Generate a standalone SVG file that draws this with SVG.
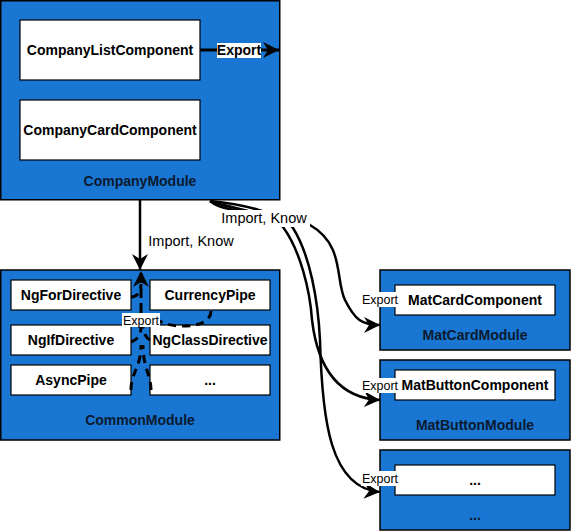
<svg xmlns="http://www.w3.org/2000/svg" width="571" height="532" viewBox="0 0 571 532">
<style>
.mod{fill:#1976D2;stroke:#000;stroke-width:1.5}
.box{fill:#fff;stroke:#000;stroke-width:1.2}
.t{font-family:"Liberation Sans",Arial,sans-serif;font-size:14px;font-weight:bold;fill:#000;text-anchor:middle}
.mt{font-family:"Liberation Sans",Arial,sans-serif;font-size:14px;font-weight:bold;fill:#0b1a2e;text-anchor:middle}
.lbl{font-family:"Liberation Sans",Arial,sans-serif;font-size:14.5px;fill:#000;text-anchor:middle}
.sl{font-family:"Liberation Sans",Arial,sans-serif;font-size:12.5px;fill:#000;text-anchor:middle}
.edge{fill:none;stroke:#000;stroke-width:2.5}
.dash{fill:none;stroke:#000;stroke-width:3;stroke-dasharray:8 6}
.bg{fill:#fff}
</style>
<defs>
<marker id="arr" markerUnits="userSpaceOnUse" markerWidth="18" markerHeight="16" refX="16" refY="8" orient="auto">
<path d="M0,0 L16,8 L0,16 L5,8 Z" fill="#000"/>
</marker>
</defs>

<g id="CompanyModule">
<rect class="mod" x="0.75" y="0.75" width="279" height="199"/>
<text class="mt" x="140" y="186">CompanyModule</text>
</g>
<g id="CompanyListComponent">
<rect class="box" x="20" y="20" width="180" height="60"/>
<text class="t" x="110" y="55">CompanyListComponent</text>
</g>
<g id="CompanyCardComponent">
<rect class="box" x="20" y="100" width="180" height="60"/>
<text class="t" x="110" y="135">CompanyCardComponent</text>
</g>

<g id="CommonModule">
<rect class="mod" x="0.75" y="270" width="279" height="170"/>
<text class="mt" x="140" y="425">CommonModule</text>
</g>
<g id="NgForDirective">
<rect class="box" x="11" y="280" width="120" height="30"/>
<text class="t" x="71" y="300">NgForDirective</text>
</g>
<g id="CurrencyPipe">
<rect class="box" x="150" y="280" width="120" height="30"/>
<text class="t" x="210" y="300">CurrencyPipe</text>
</g>
<g id="NgIfDirective">
<rect class="box" x="11" y="325" width="120" height="30"/>
<text class="t" x="71" y="345">NgIfDirective</text>
</g>
<g id="NgClassDirective">
<rect class="box" x="150" y="325" width="120" height="30"/>
<text class="t" x="210" y="345">NgClassDirective</text>
</g>
<g id="AsyncPipe">
<rect class="box" x="11" y="365" width="120" height="30"/>
<text class="t" x="71" y="385">AsyncPipe</text>
</g>
<g id="CommonMore">
<rect class="box" x="150" y="365" width="120" height="30"/>
<text class="t" x="210" y="385">...</text>
</g>

<g id="MatCardModule">
<rect class="mod" x="380" y="270" width="190" height="80"/>
<text class="mt" x="475" y="340">MatCardModule</text>
</g>
<g id="MatCardComponent">
<rect class="box" x="395" y="285" width="160" height="30"/>
<text class="t" x="475" y="305">MatCardComponent</text>
</g>
<g id="MatButtonModule">
<rect class="mod" x="380" y="360" width="190" height="80"/>
<text class="mt" x="475" y="430">MatButtonModule</text>
</g>
<g id="MatButtonComponent">
<rect class="box" x="395" y="370" width="160" height="30"/>
<text class="t" x="475" y="390">MatButtonComponent</text>
</g>
<g id="MoreModule">
<rect class="mod" x="380" y="450" width="190" height="80"/>
<text class="mt" x="475" y="520">...</text>
</g>
<g id="MoreComponent">
<rect class="box" x="395" y="465" width="160" height="30"/>
<text class="t" x="475" y="485">...</text>
</g>

<g id="connectors">
<path class="edge" style="stroke-width:3" d="M200,50 L279,50" marker-end="url(#arr)"/>
<rect class="bg" x="217" y="43" width="44" height="15"/>
<text class="t" x="239" y="55">Export</text>

<path class="edge" d="M140,200 L140,270" marker-end="url(#arr)"/>
<text class="lbl" x="191" y="246">Import, Know</text>

<path class="edge" d="M210,201 C230,218 280,205 310,225 C345,245 335,280 345,300 C355,320 362,325 380,325" marker-end="url(#arr)"/>
<path class="edge" d="M210,201 C235,210 270,212 283,227 C300,250 310,290 312,320 C318,370 340,398 380,400" marker-end="url(#arr)"/>
<path class="edge" d="M210,201 C240,204 280,212 293,228 C310,255 318,300 320,340 C322,420 330,488 380,492" marker-end="url(#arr)"/>
<rect class="bg" x="220" y="210" width="90" height="17"/>
<text class="lbl" x="264" y="223">Import, Know</text>

<path class="dash" d="M131,297 C137,297 141,292 141,284"/>
<path class="dash" d="M131,342 C137,340 141,335 141,327"/>
<path class="dash" d="M131,390 C131,372 141,368 141,345"/>
<path class="dash" d="M151,390 C151,375 143,368 143,345"/>
<path class="dash" d="M150,340 C146,338 143,333 143,325"/>
<path class="dash" d="M211,311 C211,322 198,326 183,326 C170,326 162,323 158,320"/>
<path class="dash" d="M141,313 L141,271" style="stroke-dasharray:10 5" marker-end="url(#arr)"/>
<rect class="bg" x="122" y="313" width="38" height="14"/>
<text class="sl" x="141" y="325">Export</text>

<rect class="bg" x="361" y="292" width="38" height="15"/>
<text class="sl" x="380" y="304">Export</text>
<rect class="bg" x="361" y="378" width="38" height="15"/>
<text class="sl" x="380" y="390">Export</text>
<rect class="bg" x="361" y="471" width="38" height="15"/>
<text class="sl" x="380" y="483">Export</text>
</g>
</svg>
